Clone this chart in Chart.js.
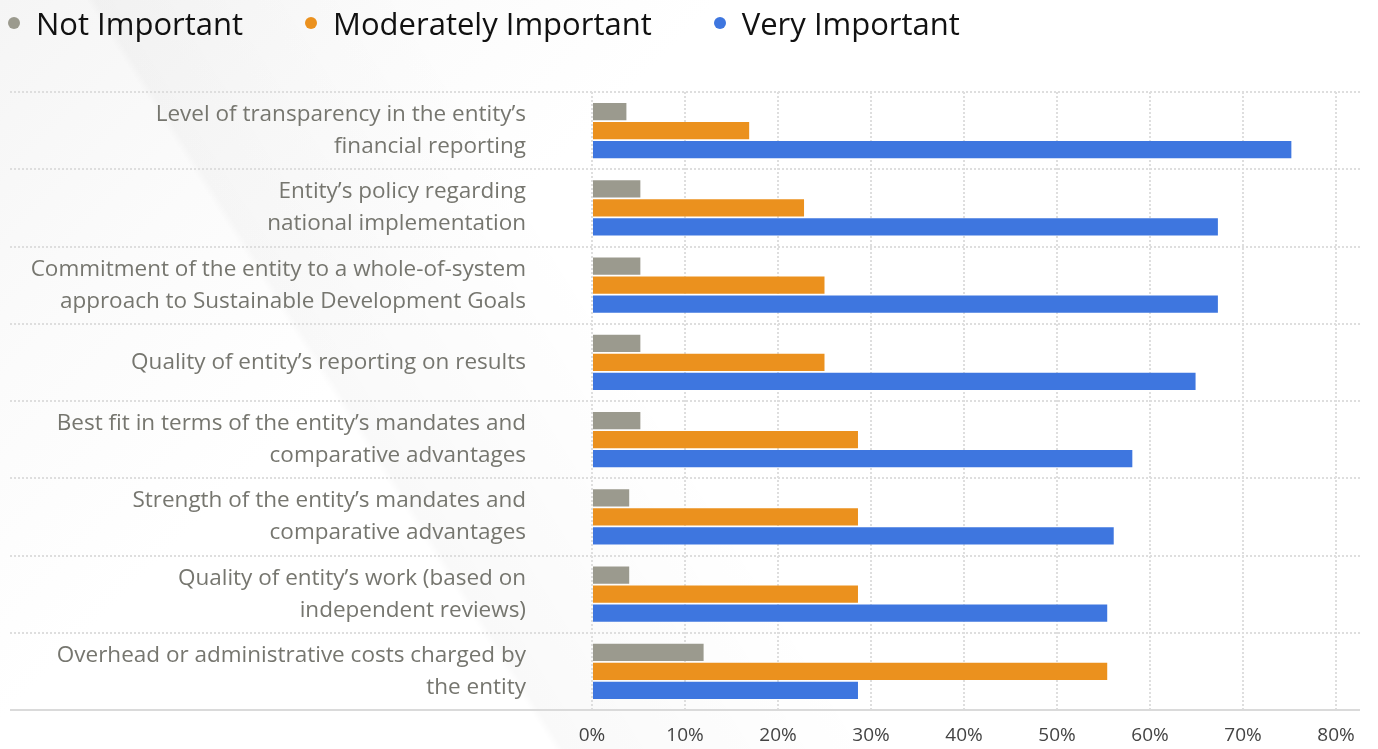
<!DOCTYPE html>
<html>
<head>
<meta charset="utf-8">
<script src="https://cdn.jsdelivr.net/npm/chart.js@4.4.1/dist/chart.umd.min.js"></script>
<style>
  html, body { margin: 0; padding: 0; }
  body {
    width: 1378px; height: 749px; overflow: hidden;
    font-family: 'Open Sans', sans-serif;
    background:
      linear-gradient(58deg, rgba(0,0,0,0) 0%, rgba(0,0,0,0) 30%, rgba(0,0,0,0.022) 30.5%, rgba(0,0,0,0) 48%),
      linear-gradient(135deg, #f5f5f5 0%, #fbfbfb 18%, #ffffff 34%, #ffffff 100%);
  }
  #wrap { position: relative; width: 1378px; height: 749px; }
  #chart { position: absolute; left: 0; top: 0; }
  #legend {
    position: absolute; left: 8px; top: 2px;
    display: flex; align-items: center;
    font-size: 31px; color: #111;
  }
  #legend .item { display: flex; align-items: center; margin-right: 62px; }
  #legend .dot { width: 12px; height: 12px; border-radius: 50%; margin-right: 16px; }
</style>
</head>
<body>
<div id="wrap">
  <canvas id="chart" width="1378" height="749"></canvas>
  <div id="legend"></div>
</div>
<script>
  // Categories (top to bottom)
  const categories = [
    ['Level of transparency in the entity\u2019s', 'financial reporting'],
    ['Entity\u2019s policy regarding', 'national implementation'],
    ['Commitment of the entity to a whole-of-system', 'approach to Sustainable Development Goals'],
    'Quality of entity\u2019s reporting on results',
    ['Best fit in terms of the entity\u2019s mandates and', 'comparative advantages'],
    ['Strength of the entity\u2019s mandates and', 'comparative advantages'],
    ['Quality of entity\u2019s work (based on', 'independent reviews)'],
    ['Overhead or administrative costs charged by', 'the entity']
  ];

  // Series values (%)
  const notImportant = [3.7, 5.2, 5.2, 5.2, 5.2, 4.0, 4.0, 12.0];
  const moderatelyImportant = [16.9, 22.8, 25.0, 25.0, 28.6, 28.6, 28.6, 55.4];
  const veryImportant = [75.2, 67.3, 67.3, 64.9, 58.1, 56.1, 55.4, 28.6];

  const seriesNames = ['Not Important', 'Moderately Important', 'Very Important'];
  const seriesColors = ['#9b9a8e', '#eb911e', '#3e76df'];

  // x axis ticks
  const xTicks = [0, 10, 20, 30, 40, 50, 60, 70, 80];

  // dotted row separators running under the labels too
  const rowLines = {
    id: 'rowLines',
    beforeDatasetsDraw(chart) {
      const { ctx, chartArea, scales: { y } } = chart;
      ctx.save();
      for (let i = 0; i <= categories.length; i++) {
        const py = Math.round(y.getPixelForValue(i - 0.5));
        const isBottom = Math.abs(py - chartArea.bottom) < 2;
        ctx.beginPath();
        ctx.setLineDash(isBottom ? [] : [2, 2]);
        ctx.lineWidth = 2;
        ctx.strokeStyle = isBottom ? '#dadada' : '#dedede';
        ctx.moveTo(10, py);
        ctx.lineTo(chartArea.right + 24, py);
        ctx.stroke();
      }
      ctx.restore();
    }
  };

  const ctx = document.getElementById('chart').getContext('2d');
  const chart = new Chart(ctx, {
    type: 'bar',
    data: {
      labels: categories,
      datasets: [
        { label: seriesNames[0], data: notImportant, backgroundColor: seriesColors[0] },
        { label: seriesNames[1], data: moderatelyImportant, backgroundColor: seriesColors[1] },
        { label: seriesNames[2], data: veryImportant, backgroundColor: seriesColors[2] }
      ]
    },
    options: {
      indexAxis: 'y',
      responsive: false,
      animation: false,
      layout: { padding: { left: 0, right: 42, top: 92, bottom: 2 } },
      datasets: {
        bar: { categoryPercentage: 0.74, barPercentage: 0.9, borderWidth: 0 }
      },
      plugins: {
        legend: { display: false },
        tooltip: { enabled: false }
      },
      scales: {
        x: {
          min: xTicks[0],
          max: xTicks[xTicks.length - 1],
          afterBuildTicks: scale => { scale.ticks = xTicks.map(v => ({ value: v })); },
          afterFit: scale => { scale.height = 37; },
          ticks: {
            callback: v => v + '%',
            color: '#444',
            font: { family: "'Open Sans', sans-serif", size: 19, weight: 500 },
            padding: 14,
            maxRotation: 0
          },
          grid: { color: '#dedede', lineWidth: 2, drawTicks: false },
          border: { display: false, dash: [2, 2] }
        },
        y: {
          afterFit: scale => { scale.width = 592; },
          ticks: {
            color: '#76766f',
            font: { family: "'Open Sans', sans-serif", size: 22.5, lineHeight: 1.42 },
            padding: 6
          },
          grid: { drawOnChartArea: false, drawTicks: true, tickLength: 60, tickColor: 'rgba(0,0,0,0)' },
          border: { display: false }
        }
      }
    },
    plugins: [rowLines]
  });

  // HTML legend built from the datasets
  const legendEl = document.getElementById('legend');
  chart.data.datasets.forEach(ds => {
    const item = document.createElement('div');
    item.className = 'item';
    item.innerHTML = `<span class="dot" style="background:${ds.backgroundColor}"></span><span>${ds.label}</span>`;
    legendEl.appendChild(item);
  });
</script>
</body>
</html>
